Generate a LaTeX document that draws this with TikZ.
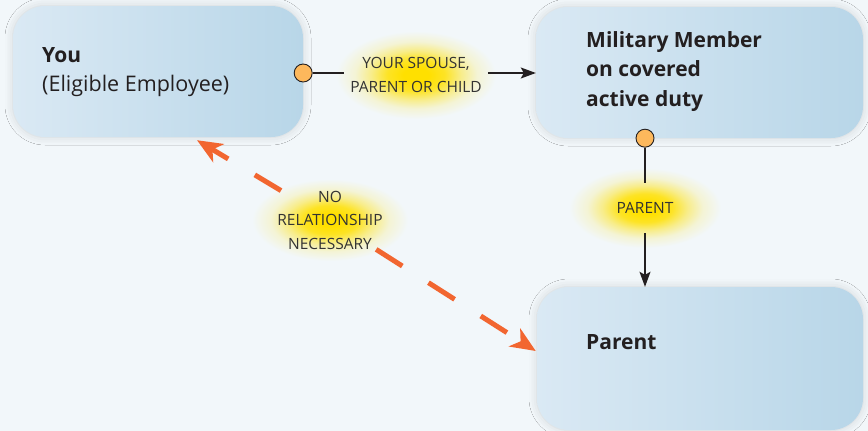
\documentclass[tikz,border=0pt]{standalone}
\usepackage{fontspec}
\setmainfont{Open Sans}
\usetikzlibrary{calc,positioning,arrows.meta,shapes.geometric,shadows.blur}
\pgfdeclarelayer{back}
\pgfsetlayers{back,main}
\definecolor{bgblue}{HTML}{F2F7FA}
\definecolor{boxleft}{HTML}{DAE9F4}
\definecolor{boxright}{HTML}{B8D6E8}
\definecolor{dashorange}{HTML}{F26630}
\definecolor{dotorange}{HTML}{FDB85C}
\definecolor{inkgray}{HTML}{231F20}
\definecolor{taggray}{HTML}{333333}
\definecolor{glowyellow}{HTML}{FFE000}
\colorlet{glowa}{glowyellow!85!bgblue}
\colorlet{glowb}{glowyellow!45!bgblue}
\colorlet{glowc}{glowyellow!15!bgblue}
\pgfdeclareradialshading{glow}{\pgfpoint{0bp}{0bp}}{%
  color(0bp)=(glowyellow); color(4bp)=(glowyellow); color(9bp)=(glowa);
  color(14bp)=(glowb); color(19bp)=(glowc); color(25bp)=(bgblue); color(50bp)=(bgblue)}
\tikzset{
  card/.style={rectangle, rounded corners=32pt, draw=none,
    left color=boxleft, right color=boxright,
    blur shadow={shadow xshift=0pt, shadow yshift=0pt,
      shadow blur radius=8pt, shadow opacity=14}},
  tag/.style={font=\fontsize{15.5}{23.5}\selectfont, text=taggray,
    align=center, inner sep=0pt},
  knob/.style={circle, draw=inkgray, line width=0.9pt, fill=dotorange,
    minimum size=18pt, inner sep=0pt},
  link/.style={draw=inkgray, line width=1.2pt},
  linkarrow/.style={link, -{Stealth[length=15pt,width=11pt,inset=3pt]}},
  nolink/.style={draw=dashorange, line width=5pt,
    dash pattern=on 31pt off 31pt},
  bigname/.style={font=\fontsize{21}{25}\selectfont\bfseries, anchor=base west, inner sep=0pt}
}

\begin{document}
\begin{tikzpicture}[x=1pt,y=-1pt,font=\fontsize{21.5}{25}\selectfont,text=inkgray]

  \useasboundingbox (0,0) rectangle (868,431);

  \node[card, minimum width=290pt, minimum height=131pt] (you) at (158,71.5) {};
  \node[card, minimum width=327pt, minimum height=131pt] (mil) at (699.5,72.5) {};
  \node[card, minimum width=326pt, minimum height=143pt] (parent) at (700,358.5) {};

  \node[bigname] (youname) at (42,62) {You};
  \node[anchor=base west, inner sep=0pt] (youtitle) at (42,91) {(Eligible Employee)};
  \foreach \t [count=\i] in {Military Member,on covered,active duty}
    \node[bigname] (mil\i) at (586,17.5+29.5*\i) {\t};
  \node[bigname] (parentname) at (586,349) {Parent};

  \node[tag, inner xsep=6pt] (spouse) at (416,75) {YOUR SPOUSE,\\PARENT OR CHILD};
  \node[tag, minimum height=50pt] (pa) at (645,208) {PARENT};
  \node[tag, inner sep=0pt] (norel) at (330,220) {NO\\RELATIONSHIP\\NECESSARY};

  \node[knob] (k1) at ($(you.east)+(0,1.5)$) {};
  \node[knob] (k2) at (mil.south -| pa) {};

  \draw[link] (k1) -- (k1 -| spouse.west);
  \draw[linkarrow] (spouse.east |- k1) -- (k1 -| mil.west);
  \draw[link] (k2) -- (k2 |- pa.north);
  \draw[linkarrow] (k2 |- pa.south) -- (k2 |- parent.north);

  \coordinate (tipA) at ($(you.south)+(39,3)$);
  \coordinate (tipB) at ($(parent.west)+(-1,-7.5)$);
  \draw[nolink, dash phase=11pt, {Stealth[length=25pt,width=21pt,inset=7pt]}-] (tipA) -- (norel);
  \draw[nolink, -{Stealth[length=25pt,width=21pt,inset=7pt]}] (norel) -- (tipB);

  \begin{pgfonlayer}{back}
    \fill[bgblue] (0,0) rectangle (868,431);
    \shade[shading=glow] (spouse) ellipse [x radius=80, y radius=44];
    \shade[shading=glow] (pa) ellipse [x radius=76, y radius=40];
    \shade[shading=glow] (norel) ellipse [x radius=78, y radius=41];
  \end{pgfonlayer}

\end{tikzpicture}
\end{document}
